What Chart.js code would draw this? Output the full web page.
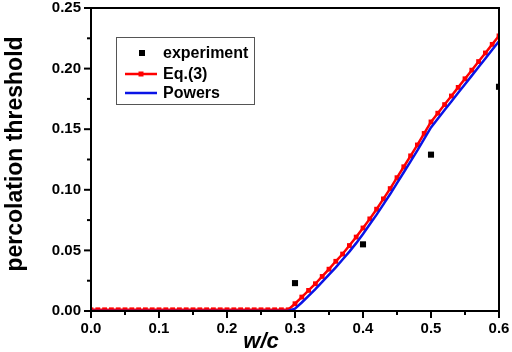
<!DOCTYPE html>
<html><head><meta charset="utf-8">
<script src="https://cdn.jsdelivr.net/npm/chart.js@4"></script>
<style>html,body{margin:0;padding:0;background:#fff;overflow:hidden}#wrap{width:512px;height:352px}</style>
</head><body><div id="wrap"><canvas id="c" width="512" height="352"></canvas></div>
<script>
const wc = [0.00,0.01,0.02,0.03,0.04,0.05,0.06,0.07,0.08,0.09,0.10,0.11,0.12,0.13,0.14,0.15,0.16,0.17,0.18,0.19,0.20,0.21,0.22,0.23,0.24,0.25,0.26,0.27,0.28,0.29,0.30,0.31,0.32,0.33,0.34,0.35,0.36,0.37,0.38,0.39,0.40,0.41,0.42,0.43,0.44,0.45,0.46,0.47,0.48,0.49,0.50,0.51,0.52,0.53,0.54,0.55,0.56,0.57,0.58,0.59,0.60];
const eq3Y = [0.001,0.001,0.001,0.001,0.001,0.001,0.001,0.001,0.001,0.001,0.001,0.001,0.001,0.001,0.001,0.001,0.001,0.001,0.001,0.001,0.001,0.001,0.001,0.001,0.001,0.001,0.001,0.001,0.001,0.001,
  0.006,0.0115,0.017,0.0225,0.0285,0.0345,0.041,0.047,0.054,0.061,0.0685,0.076,0.084,0.0925,0.101,0.110,0.119,0.128,0.137,0.1465,0.156,0.1632,0.1703,0.1774,0.1845,0.1916,0.1987,0.2058,0.2129,0.2200,0.227];
const powersY = [0,0,0,0,0,0,0,0,0,0,0,0,0,0,0,0,0,0,0,0,0,0,0,0,0,0,0,0,0,0,
  0.002,0.007,0.0125,0.018,0.024,0.030,0.036,0.0425,0.049,0.056,0.0635,0.0715,0.0795,0.088,0.0965,0.1055,0.1145,0.1235,0.1325,0.142,0.1515,0.1587,0.1658,0.1729,0.18,0.1871,0.1942,0.2013,0.2084,0.2155,0.2225];
const expX = [0.3,0.4,0.5,0.6];
const expY = [0.023,0.055,0.129,0.185];
const xTickLabels = ['0.0','0.1','0.2','0.3','0.4','0.5','0.6'];
const yTickLabels = ['0.00','0.05','0.10','0.15','0.20','0.25'];
const seriesNames = ['experiment','Eq.(3)','Powers'];
const xTitle = 'w/c';
const yTitle = 'percolation threshold';

const FONT = '"Liberation Sans", Arial, sans-serif';
const pts = (xs, ys) => xs.map((x, i) => ({x: x, y: ys[i]}));
const noPad = s => { s.paddingTop = 0; s.paddingBottom = 0; s.paddingLeft = 0; s.paddingRight = 0; };

const decor = {
  id: 'decor',
  afterDatasetsDraw(chart) {
    const ctx = chart.ctx, a = chart.chartArea;
    ctx.save();
    ctx.strokeStyle = '#000';
    ctx.lineWidth = 2;
    ctx.strokeRect(a.left, a.top, a.right - a.left, a.bottom - a.top);
    const xs = chart.scales.x, ys = chart.scales.y;
    xs.ticks.forEach(t => {
      const p = xs.getPixelForValue(t.value);
      const major = t.label !== '';
      ctx.beginPath(); ctx.moveTo(p, a.bottom); ctx.lineTo(p, a.bottom + (major ? 7 : 4)); ctx.stroke();
    });
    ys.ticks.forEach(t => {
      const p = ys.getPixelForValue(t.value);
      const major = t.label !== '';
      ctx.beginPath(); ctx.moveTo(a.left, p); ctx.lineTo(a.left - (major ? 7 : 4), p); ctx.stroke();
    });
    ctx.fillStyle = '#000';
    ctx.textAlign = 'center'; ctx.textBaseline = 'middle';
    ctx.font = 'italic bold 22px ' + FONT;
    ctx.fillText(xTitle, 261, 342);
    ctx.save();
    ctx.translate(16, 154); ctx.rotate(-Math.PI / 2);
    ctx.font = 'bold 23px ' + FONT;
    ctx.fillText(yTitle, 0, 0);
    ctx.restore();
    const L = 116, T = 37, R = 254, B = 104;
    ctx.fillStyle = '#fff';
    ctx.fillRect(L, T, R - L, B - T);
    ctx.strokeStyle = '#555'; ctx.lineWidth = 1;
    ctx.strokeRect(L + 0.5, T + 0.5, R - L, B - T);
    const rows = [53, 74, 93];
    const ds = chart.data.datasets;
    ctx.fillStyle = '#000';
    ctx.fillRect(139, rows[0] - 3, 6, 6);
    ctx.strokeStyle = ds[1].borderColor; ctx.lineWidth = 2.5;
    ctx.beginPath(); ctx.moveTo(125, rows[1]); ctx.lineTo(157, rows[1]); ctx.stroke();
    ctx.fillStyle = ds[1].pointBackgroundColor;
    ctx.fillRect(138.5, rows[1] - 2.5, 5, 5);
    ctx.strokeStyle = ds[2].borderColor;
    ctx.beginPath(); ctx.moveTo(125, rows[2]); ctx.lineTo(157, rows[2]); ctx.stroke();
    ctx.fillStyle = '#000';
    ctx.font = 'bold 16px ' + FONT;
    ctx.textAlign = 'left';
    ds.forEach((d, i) => ctx.fillText(d.label, 163, rows[i] + 1));
    ctx.restore();
  }
};

new Chart(document.getElementById('c'), {
  type: 'scatter',
  data: {
    datasets: [
      { label: seriesNames[0], data: pts(expX, expY), showLine: false, pointStyle: 'rect',
        pointRadius: 4.3, pointBackgroundColor: '#000', pointBorderWidth: 0, borderColor: '#000', clip: 0, order: 0 },
      { label: seriesNames[1], data: pts(wc, eq3Y), showLine: true, borderColor: '#ff0000', borderWidth: 2.5,
        pointStyle: 'rect', pointRadius: 3.4, pointBackgroundColor: '#ff0000', pointBorderWidth: 0, clip: 0, order: 2 },
      { label: seriesNames[2], data: pts(wc, powersY), showLine: true, borderColor: '#0a14e6', borderWidth: 2.5,
        pointRadius: 0, clip: 0, order: 1 }
    ]
  },
  options: {
    responsive: false, animation: false, devicePixelRatio: 1,
    layout: { padding: { left: 0, top: 8, right: 13, bottom: 0 } },
    plugins: { legend: { display: false }, tooltip: { enabled: false } },
    scales: {
      x: {
        type: 'linear', min: 0, max: 0.6,
        grid: { display: false, drawTicks: false }, border: { display: false },
        ticks: { stepSize: 0.05, autoSkip: false, maxRotation: 0, padding: 10, color: '#000',
          font: { family: FONT, size: 15, weight: 'bold', lineHeight: 1 },
          callback: v => { const k = Math.round(v * 100); return k % 10 === 0 ? xTickLabels[k / 10] : ''; } },
        afterFit: s => { s.height = 41; noPad(s); }
      },
      y: {
        type: 'linear', min: 0, max: 0.25,
        grid: { display: false, drawTicks: false }, border: { display: false },
        ticks: { stepSize: 0.025, autoSkip: false, padding: 10, color: '#000',
          font: { family: FONT, size: 15, weight: 'bold', lineHeight: 1 },
          callback: v => { const k = Math.round(v * 1000); return k % 50 === 0 ? yTickLabels[k / 50] : ''; } },
        afterFit: s => { s.width = 91; noPad(s); }
      }
    }
  },
  plugins: [decor]
});
</script></body></html>
